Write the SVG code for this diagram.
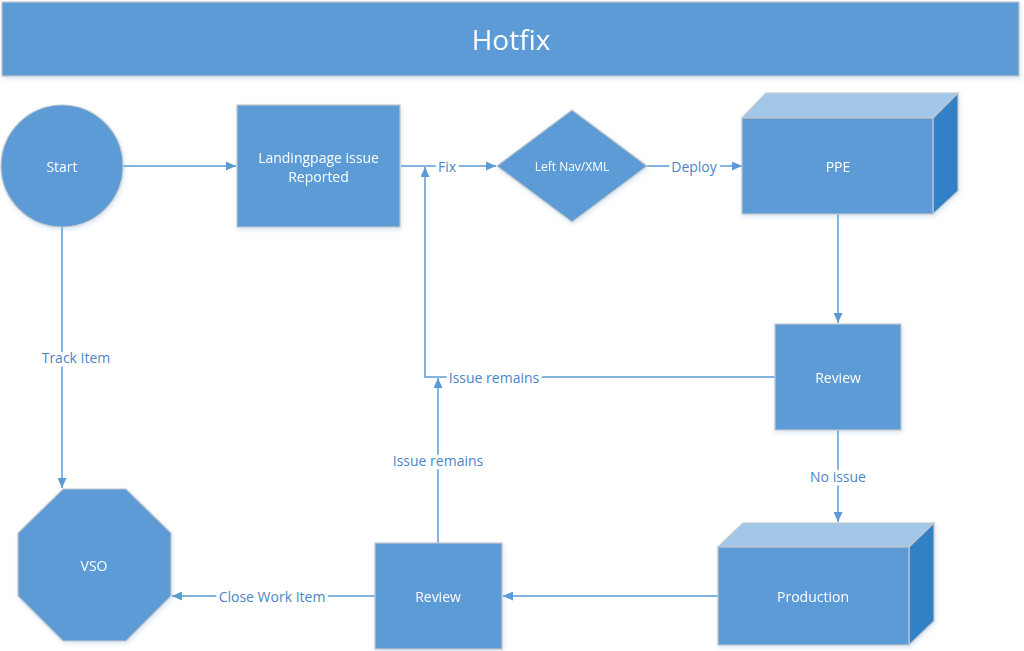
<svg xmlns="http://www.w3.org/2000/svg" width="1024" height="651" viewBox="0 0 1024 651">
<style>
.shape{fill:#5B9BD5;stroke:#C3C6CA;stroke-width:1.2}
.top{fill:#A3C7E8;stroke:#C3C6CA;stroke-width:1.2}
.side{fill:#3380C6;stroke:#C3C6CA;stroke-width:1.2}
.nt{fill:#FFFFFF;font-family:"Open Sans","Noto Sans",sans-serif;font-size:14px;text-anchor:middle;dominant-baseline:central}
.conn{fill:none;stroke:#5B9BD5;stroke-width:1.5}
.lbl{fill:#4A86C8;font-family:"Open Sans","Noto Sans",sans-serif;font-size:14px;text-anchor:middle;dominant-baseline:central;stroke:#FFFFFF;stroke-width:7;paint-order:stroke;stroke-linejoin:round}
</style>
<defs>
<marker id="arr" markerWidth="10" markerHeight="9" refX="10" refY="4.5" orient="auto" markerUnits="userSpaceOnUse">
<path d="M0,0 L10,4.5 L0,9 z" fill="#5B9BD5"/>
</marker>
<filter id="sh" x="-10%" y="-10%" width="125%" height="125%">
<feDropShadow dx="1" dy="2" stdDeviation="2" flood-color="#5B9BD5" flood-opacity="0.25"/>
</filter>
</defs>
<rect width="1024" height="651" fill="#FFFFFF"/>

<g id="header" filter="url(#sh)">
<rect class="shape" x="2" y="2" width="1017" height="74"/>
<text x="511" y="39" fill="#FFFFFF" font-family="'Open Sans','Noto Sans',sans-serif" font-size="28" text-anchor="middle" dominant-baseline="central">Hotfix</text>
</g>

<g id="connectors">
<path class="conn" d="M123,166 H236" marker-end="url(#arr)"/>
<path class="conn" d="M401,166 H496" marker-end="url(#arr)"/>
<path class="conn" d="M647,166 H742" marker-end="url(#arr)"/>
<path class="conn" d="M838,214 V323" marker-end="url(#arr)"/>
<path class="conn" d="M775,377 H425 V167" marker-end="url(#arr)"/>
<path class="conn" d="M838,430 V522" marker-end="url(#arr)"/>
<path class="conn" d="M718,596 H503" marker-end="url(#arr)"/>
<path class="conn" d="M438,543 V378" marker-end="url(#arr)"/>
<path class="conn" d="M375,596 H172" marker-end="url(#arr)"/>
<path class="conn" d="M62,227 V488" marker-end="url(#arr)"/>
<text class="lbl" x="447" y="166">Fix</text>
<text class="lbl" x="694" y="166">Deploy</text>
<text class="lbl" x="494" y="377">Issue remains</text>
<text class="lbl" x="838" y="476">No issue</text>
<text class="lbl" x="438" y="460">Issue remains</text>
<text class="lbl" x="272" y="596">Close Work Item</text>
<text class="lbl" x="76" y="357">Track Item</text>
</g>

<g id="start" filter="url(#sh)">
<circle class="shape" cx="62" cy="166" r="61"/>
<text class="nt" x="62" y="166">Start</text>
</g>

<g id="landingpage" filter="url(#sh)">
<rect class="shape" x="237" y="105" width="163" height="122"/>
<text class="nt" x="318.5" y="157">Landingpage issue</text>
<text class="nt" x="318.5" y="176">Reported</text>
</g>

<g id="leftnav" filter="url(#sh)">
<polygon class="shape" points="572,110 647,166 572,222 497,166"/>
<text class="nt" x="572" y="166" style="font-size:12px">Left Nav/XML</text>
</g>

<g id="ppe" filter="url(#sh)">
<polygon class="top" points="742,118 766,93 958,93 933,118"/>
<polygon class="side" points="933,118 958,93 958,191 933,214"/>
<rect class="shape" x="742" y="118" width="191" height="96"/>
<text class="nt" x="838" y="166">PPE</text>
</g>

<g id="review1" filter="url(#sh)">
<rect class="shape" x="775" y="324" width="126" height="106"/>
<text class="nt" x="838" y="377">Review</text>
</g>

<g id="production" filter="url(#sh)">
<polygon class="top" points="718,547 743,523 934,523 909,547"/>
<polygon class="side" points="909,547 934,523 934,621 909,645"/>
<rect class="shape" x="718" y="547" width="191" height="98"/>
<text class="nt" x="813" y="596">Production</text>
</g>

<g id="review2" filter="url(#sh)">
<rect class="shape" x="375" y="543" width="127" height="106"/>
<text class="nt" x="438" y="596">Review</text>
</g>

<g id="vso" filter="url(#sh)">
<polygon class="shape" points="63,489 126,489 171,533 171,596 126,641 63,641 18,596 18,533"/>
<text class="nt" x="94" y="565">VSO</text>
</g>
</svg>
